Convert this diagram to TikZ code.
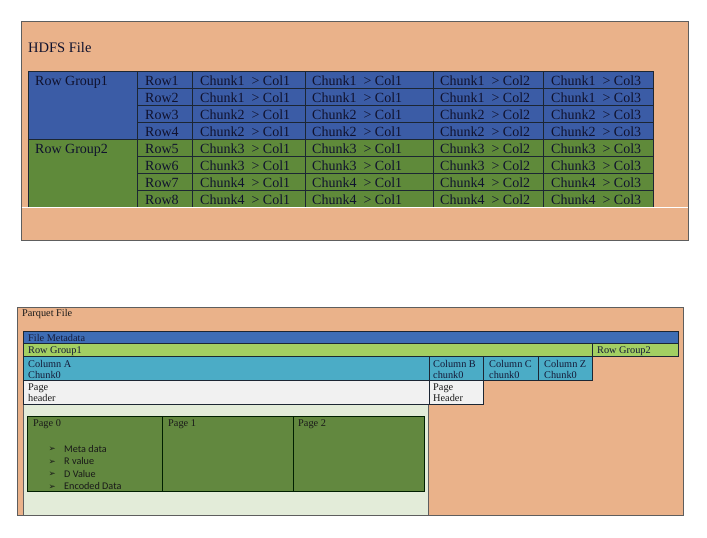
\documentclass[tikz,border=0pt]{standalone}
\usepackage{fontspec}
\setmainfont{Liberation Serif}
\newfontfamily\calib{Carlito}
\newfontfamily\dejavu{DejaVu Sans}
\definecolor{salmon}{HTML}{EAB28A}
\definecolor{tblue}{HTML}{3B5CA6}
\definecolor{tgreen}{HTML}{5F8A3A}
\definecolor{tabtext}{HTML}{10122E}
\definecolor{gridc}{HTML}{1C2633}
\definecolor{mblue}{HTML}{3E6DB5}
\definecolor{lgreen}{HTML}{A3CF62}
\definecolor{cyanc}{HTML}{4BACC6}
\definecolor{hdrgray}{HTML}{F1F1F1}
\definecolor{panel}{HTML}{E3ECD9}
\definecolor{pgreen}{HTML}{62883F}
\definecolor{ptext}{HTML}{151A38}
\definecolor{edge}{HTML}{5E5E5E}
\tikzset{
  tcell/.style={anchor=base west, inner sep=0pt, font=\fontsize{14}{16}\selectfont, text=tabtext},
  pcell/.style={anchor=base west, inner sep=0pt, font=\fontsize{10.3}{12}\selectfont, text=ptext},
  bcell/.style={anchor=base west, inner sep=0pt, font=\calib\fontsize{10.2}{12}\selectfont, text=black!90},
  bul/.style={anchor=base west, inner sep=0pt, font=\dejavu\fontsize{8.5}{10}\selectfont, text=black!90},
  bar/.style={draw=gridc, line width=0.7pt},
}
\begin{document}
\begin{tikzpicture}[x=1pt,y=-1pt]
\useasboundingbox[fill=white] (0,0) rectangle (707,538);
% ---------- HDFS file ----------
\draw[fill=salmon, draw=edge, line width=1pt] (21,21) rectangle (688,240);
\node[anchor=base west, inner sep=0pt, font=\fontsize{14.5}{16}\selectfont, text=tabtext] (hdfs) at (28,52) {HDFS File};
\fill[tblue] (28,71) rectangle (653,139);
\fill[tgreen] (28,139) rectangle (653,207);
\foreach \k in {1,...,7} {
  \draw[gridc, line width=0.7pt] (137,71+17*\k) -- (653,71+17*\k);
}
\draw[gridc, line width=0.8pt] (28,139) -- (653,139);
\foreach \xx in {137,192,305,433,543} {
  \draw[gridc, line width=0.8pt] (\xx,71) -- (\xx,207);
}
\draw[gridc, line width=0.9pt] (28,71) rectangle (653,207);
\draw[white, line width=0.8pt] (21.5,207.5) -- (687.5,207.5);
\node[tcell] (rg1) at (35,85) {Row Group1};
\node[tcell] (rg2) at (35,153) {Row Group2};
\foreach \r in {1,...,8} {
  \pgfmathtruncatemacro\ch{int((\r+1)/2)}
  \pgfmathsetmacro\yb{71+17*(\r-1)+14}
  \node[tcell] (row\r) at (145,\yb) {Row\r};
  \node[tcell] (ca\r) at (200,\yb) {Chunk\ch\ \ > Col1};
  \node[tcell] (cb\r) at (312,\yb) {Chunk\ch\ \ > Col1};
  \node[tcell] (cc\r) at (440,\yb) {Chunk\ch\ \ > Col2};
  \node[tcell] (cd\r) at (551,\yb) {Chunk\ch\ \ > Col3};
}
% ---------- Parquet file ----------
\draw[fill=salmon, draw=edge, line width=1pt] (17,307) rectangle (683,515);
\node[pcell, text=black!90] (pq) at (22,316) {Parquet File};
\draw[fill=panel, draw=edge, line width=0.8pt] (23,404) rectangle (428,515);
\draw[bar, fill=mblue] (23,331) rectangle (678,343);
\draw[bar, fill=lgreen] (23,343) rectangle (592,356);
\draw[bar, fill=lgreen] (592,343) rectangle (678,356);
\draw[bar, fill=cyanc] (23,356) rectangle (429,380);
\draw[bar, fill=cyanc] (429,356) rectangle (483,380);
\draw[bar, fill=cyanc] (483,356) rectangle (538,380);
\draw[bar, fill=cyanc] (538,356) rectangle (592,380);
\draw[bar, fill=hdrgray] (23,380) rectangle (429,404);
\draw[bar, fill=hdrgray] (429,380) rectangle (483,404);
\node[pcell] (fm) at (28,341) {File Metadata};
\node[pcell] (prg1) at (28,353.5) {Row Group1};
\node[pcell] (prg2) at (597,353.5) {Row Group2};
\node[pcell] (colA) at (28,367) {Column A};
\node[pcell] (colA2) at (28,378) {Chunk0};
\node[pcell] (colB) at (433,367) {Column B};
\node[pcell] (colB2) at (433,378) {chunk0};
\node[pcell] (colC) at (489,367) {Column C};
\node[pcell] (colC2) at (489,378) {chunk0};
\node[pcell] (colZ) at (544,367) {Column Z};
\node[pcell] (colZ2) at (544,378) {Chunk0};
\node[pcell, text=black!90] (phA) at (28,390) {Page};
\node[pcell, text=black!90] (phA2) at (28,401.5) {header};
\node[pcell, text=black!90] (phB) at (433,390) {Page};
\node[pcell, text=black!90] (phB2) at (433,401.5) {Header};
% pages
\draw[fill=pgreen, draw=black!70!green!40!black, line width=0.9pt] (27,416) rectangle (424,491);
\draw[black!70!green!40!black, line width=0.9pt] (162,416) -- (162,491);
\draw[black!70!green!40!black, line width=0.9pt] (293,416) -- (293,491);
\node[pcell, text=black!90] (p0) at (33,426.5) {Page 0};
\node[pcell, text=black!90] (p1) at (168,426.5) {Page 1};
\node[pcell, text=black!90] (p2) at (298,426.5) {Page 2};
\node[bul] (b1) at (48.5,451.5) {➢};
\node[bul] (b2) at (48.5,464) {➢};
\node[bul] (b3) at (48.5,476.5) {➢};
\node[bul] (b4) at (48.5,489) {➢};
\node[bcell] (t1) at (64,452) {Meta data};
\node[bcell] (t2) at (64,464.5) {R value};
\node[bcell] (t3) at (64,477) {D Value};
\node[bcell] (t4) at (64,489.5) {Encoded Data};
\end{tikzpicture}
\end{document}
